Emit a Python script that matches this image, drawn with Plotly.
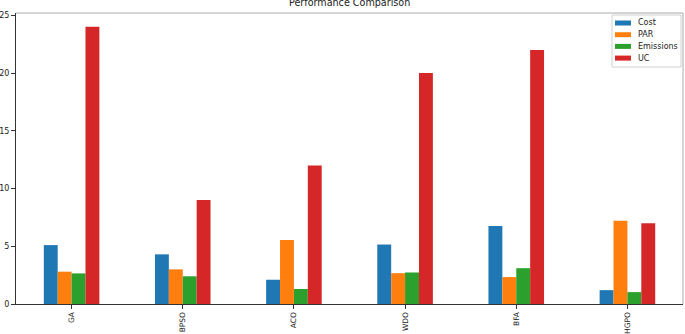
import plotly.graph_objects as go

categories = ["GA", "BPSO", "ACO", "WDO", "BFA", "HGPO"]
cost = [5.1, 4.3, 2.1, 5.15, 6.75, 1.2]
par = [2.8, 3.0, 5.55, 2.67, 2.33, 7.2]
emissions = [2.65, 2.4, 1.3, 2.73, 3.1, 1.03]
uc = [24, 9, 12, 20, 22, 7]

series_names = ["Cost", "PAR", "Emissions", "UC"]
series_values = [cost, par, emissions, uc]
colors = ["#1f77b4", "#ff7f0e", "#2ca02c", "#d62728"]

W, H = 685, 334
L, R, T, B = 16, 2, 13, 30
PW, PH = W - L - R, H - T - B


def px(X):
    return (X - L) / PW


def py(Y):
    return (H - B - Y) / PH


fig = go.Figure()
for name, vals, col in zip(series_names, series_values, colors):
    fig.add_trace(go.Bar(x=list(range(len(categories))), y=vals, name=name,
                         marker=dict(color=col, line=dict(width=0)),
                         showlegend=False))

font = "DejaVu Sans"
fig.update_layout(
    width=W, height=H,
    margin=dict(l=L, r=R, t=T, b=B, autoexpand=False),
    plot_bgcolor="white", paper_bgcolor="white",
    barmode="group", bargap=0.5, bargroupgap=0,
    showlegend=False,
    font=dict(family=font, size=8, color="#222"),
)
fig.update_xaxes(range=[-0.5, 5.5], tickmode="array",
                 tickvals=list(range(len(categories))), ticktext=categories,
                 tickangle=-90, ticks="outside", ticklen=4, tickcolor="#333",
                 showline=True, linecolor="#333", linewidth=1, mirror=False,
                 showgrid=False, zeroline=False, automargin=False,
                 tickfont=dict(family=font, size=7.5, color="#222"))
fig.update_yaxes(range=[0, 25.2], tickvals=[0, 5, 10, 15, 20, 25],
                 ticks="outside", ticklen=4, tickcolor="#333",
                 showline=True, linecolor="#333", linewidth=1,
                 showgrid=False, zeroline=False, automargin=False,
                 tickfont=dict(family=font, size=8, color="#222"))
# top/right spines in light gray
fig.add_shape(type="line", xref="paper", yref="paper", x0=0, x1=1, y0=1, y1=1,
              line=dict(color="#aaaaaa", width=1))
fig.add_shape(type="line", xref="paper", yref="paper", x0=1, x1=1, y0=0, y1=1,
              line=dict(color="#aaaaaa", width=1))

# title
fig.add_annotation(text="Performance Comparison", xref="paper", yref="paper",
                   x=0.5, y=py(2.8), xanchor="center", yanchor="middle",
                   showarrow=False, font=dict(family=font, size=9.6, color="#222"))

# legend box (drawn manually to match compact matplotlib legend)
fig.add_shape(type="rect", xref="paper", yref="paper",
              x0=px(612), x1=px(681), y0=py(67), y1=py(15),
              line=dict(color="#d0d0d0", width=1), fillcolor="rgba(255,255,255,0.8)")
rows = [23, 34.7, 46.4, 58.1]
for name, col, yr in zip(series_names, colors, rows):
    fig.add_shape(type="rect", xref="paper", yref="paper",
                  x0=px(615), x1=px(631), y0=py(yr + 2.5), y1=py(yr - 2.5),
                  line=dict(width=0), fillcolor=col)
    fig.add_annotation(text=name, xref="paper", yref="paper",
                       x=px(636), y=py(yr), xanchor="left", yanchor="middle",
                       showarrow=False, font=dict(family=font, size=8, color="#222"))

fig.write_html("out.html", config={"displayModeBar": False},
               post_script="document.body.style.margin='0';document.body.style.padding='0';")
